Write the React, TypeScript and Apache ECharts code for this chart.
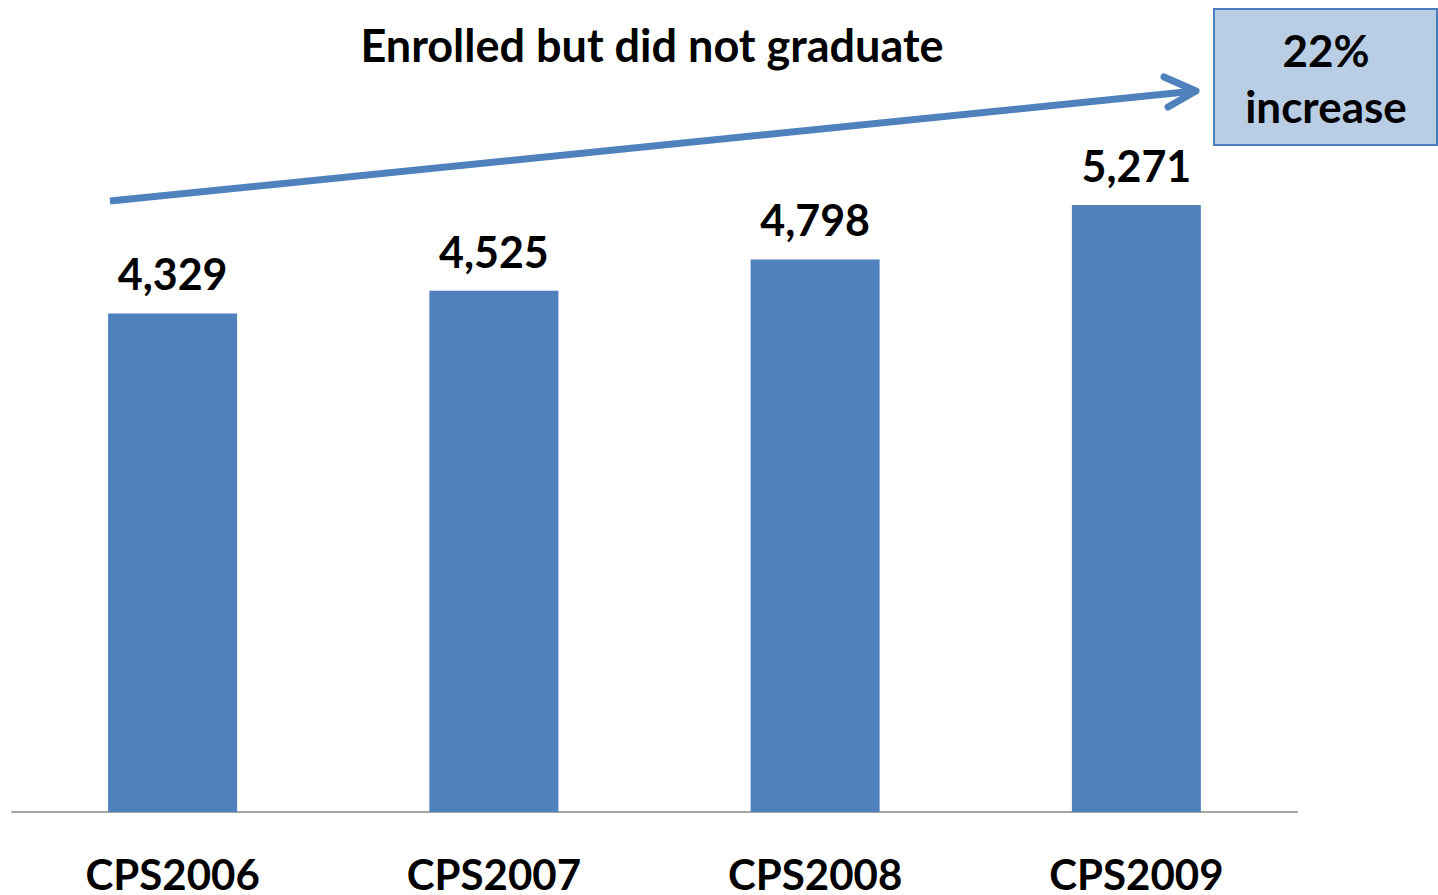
import React, { useEffect, useRef } from "react";
import * as echarts from "echarts";

const categories = ["CPS2006", "CPS2007", "CPS2008", "CPS2009"];
const enrolledNotGraduated = [4329, 4525, 4798, 5271];
const titleText = "Enrolled but did not graduate";
const calloutLines = ["22%", "increase"];

const FONT = "Lato, 'Open Sans', sans-serif";
const BAR = "#4f81bd";

export default function App() {
  const ref = useRef<HTMLDivElement>(null);
  useEffect(() => {
    if (!ref.current) return;
    const chart = echarts.init(ref.current, null, { renderer: "svg" });
    chart.setOption({
      animation: false,
      backgroundColor: "#ffffff",
      grid: { left: 12, right: 141, top: 121, bottom: 81, containLabel: false },
      xAxis: {
        type: "category",
        data: categories,
        axisLine: { show: true, lineStyle: { color: "#a6a6a6", width: 2 } },
        axisTick: { show: false },
        axisLabel: {
          color: "#000",
          fontFamily: FONT,
          fontWeight: "bold",
          fontSize: 42,
          margin: 41,
        },
      },
      yAxis: {
        type: "value",
        min: 0,
        max: 6000,
        show: false,
        splitLine: { show: false },
      },
      series: [
        {
          type: "bar",
          data: enrolledNotGraduated,
          barWidth: 129,
          itemStyle: { color: BAR },
          label: {
            show: true,
            position: "top",
            distance: 18,
            color: "#000",
            fontFamily: FONT,
            fontWeight: "bold",
            fontSize: 43,
            formatter: (p: any) => Number(p.value).toLocaleString("en-US"),
          },
        },
      ],
      graphic: [
        {
          type: "text",
          style: {
            x: 652,
            y: 45,
            text: titleText,
            fill: "#000",
            font: `bold 45px ${FONT}`,
            textAlign: "center",
            textVerticalAlign: "middle",
          },
        },
        {
          type: "line",
          shape: { x1: 110, y1: 201, x2: 1195, y2: 91 },
          style: { stroke: BAR, lineWidth: 7 },
        },
        {
          type: "polyline",
          shape: { points: [[1164, 77], [1196, 91], [1168, 107]] },
          style: { stroke: BAR, lineWidth: 7, fill: null, lineCap: "round", lineJoin: "round" },
        },
        {
          type: "rect",
          shape: { x: 1214, y: 9, width: 223, height: 136 },
          style: { fill: "#b9cde5", stroke: "#4a7ebb", lineWidth: 2 },
        },
        {
          type: "text",
          style: {
            x: 1326,
            y: 50,
            text: calloutLines[0],
            fill: "#000",
            font: `bold 44px ${FONT}`,
            textAlign: "center",
            textVerticalAlign: "middle",
          },
        },
        {
          type: "text",
          style: {
            x: 1326,
            y: 106,
            text: calloutLines[1],
            fill: "#000",
            font: `bold 44px ${FONT}`,
            textAlign: "center",
            textVerticalAlign: "middle",
          },
        },
      ],
    });
    return () => chart.dispose();
  }, []);
  return (
    <div
      ref={ref}
      style={{ position: "fixed", left: 0, top: 0, width: 1438, height: 895, background: "#fff" }}
    />
  );
}
